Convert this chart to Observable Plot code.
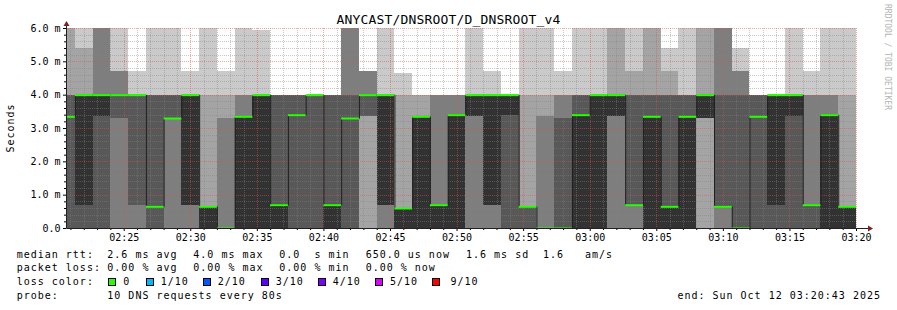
<!DOCTYPE html>
<html><head><meta charset="utf-8">
<script src="https://cdn.jsdelivr.net/npm/d3@7"></script>
<script src="https://cdn.jsdelivr.net/npm/@observablehq/plot@0.6"></script>
<style>
html,body{margin:0;padding:0;background:#fff;}
#wrap{position:relative;width:897px;height:310px;overflow:hidden;background:#fff;font-family:"DejaVu Sans Mono",monospace;color:#000;}
#wrap svg{position:absolute;left:0;top:0;}
.t{position:absolute;white-space:pre;font-size:10px;line-height:10px;letter-spacing:1px;}
.sw{position:absolute;width:6px;height:6px;border:1px solid #000;}
</style></head><body><div id="wrap"></div>
<script>
// ---------- data ----------
const title = "ANYCAST/DNSROOT/D_DNSROOT_v4";
const yLabel = "Seconds";
const credit = "RRDTOOL / TOBI OETIKER";
const viewStart = "2025-10-12T02:20:40Z";
const lastBinEnd = "2025-10-12T03:20:00Z";
const stepSeconds = 80;
// 10 sorted DNS round-trip times (ms) per 80 s step
const pings = [
  [0,0,0,0,3.35,3.35,4,4,6,6],
  [0,0,0,0,0.7,4,4,4,5.4,6],
  [0,0,0,0,3.35,4,4,6,6,6],
  [0,0,0,3.3,4,4,4,4.7,4.7,6],
  [0,0,0,0.7,4,4,4,4,4,4.7],
  [0,0,0,0,0.65,0.65,4,4,4,6],
  [0,0,0,3.3,3.3,3.3,4,4,4,6],
  [0,0,0,0.7,0.7,4,4,4,4,4.7],
  [0,0,0,0,0,0.65,0.65,0.65,4,6],
  [0,0,0,0,0,0,0,3.3,4,4.7],
  [0,0,0,0,0,3.35,3.35,4,4,6],
  [0,0,0,0,0,4,4,4,4,5.95],
  [0,0,0,0,0,0.7,4,4,4,4],
  [0,0,0,0,3.4,3.4,4,4,4,4],
  [0,0,0,0,4,4,4,4,4,4],
  [0,0,0,0,0,0.7,4,4,4,4],
  [0,0,0,0,3.3,3.3,4,6,6,6],
  [0,0,3.35,3.35,4,4,4,4.7,4.7,4.7],
  [0,0,0,0.7,0.7,4,4,4,4,6],
  [0,0,0,0,0,0.6,0.6,0.6,4,4.65],
  [0,0,0,0,0,3.35,3.35,3.35,4,4],
  [0,0,0,0,0,0.7,0.7,4,4,4],
  [0,0,0,0,0,3.4,3.4,4,4,4],
  [0,0,0,3.35,3.35,4,4,4,4,6],
  [0,0,0,0.7,0.7,4,4,4,4,4.7],
  [0,0,0,0,3.4,4,4,4,4,4],
  [0,0,0,0,0.65,0.65,0.65,0.65,4,6],
  [0,0,0,0,0,0,0,3.35,4,6],
  [0,0,0,0,0,0,3.3,4,4,4.7],
  [0,0,0,0,0,3.4,4,4,4,6],
  [0,0,0,0,0,4,4,4,4,6],
  [0,0,0,3.35,3.35,4,4,4,6,6],
  [0,0,0,0.7,0.7,0.7,4,4,4.7,6],
  [0,0,0,0,0,3.35,4,4,6,6],
  [0,0,0,0,0,0.65,4,4,4.7,5.4],
  [0,0,0,0,0,3.35,4,4,4,6],
  [0,0,3.3,3.3,3.3,4,4,4,6,6],
  [0,0,0,0.65,0.65,0.65,4,6,6,6],
  [0,0,0,0,0,0,4,4.7,4.7,5.4],
  [0,0,0,0,3.35,3.35,4,4,4,4],
  [0,0,0,0,0.7,4,4,4,4,4],
  [0,0,0,0,3.35,4,4,4,4,6],
  [0,0,0,0,0.7,0.7,0.7,4,4,4.7],
  [0,0,0,0,0,3.4,3.4,4,4,6],
  [0,0,0,0,0,0.65,0.65,0.65,4,6]
];
const medians = [3.35,4,4,4,4,0.65,3.3,4,0.65,0,3.35,4,0.7,3.4,4,0.7,3.3,4,4,0.6,3.35,0.7,3.4,4,4,4,0.65,0,0,3.4,4,4,0.7,3.35,0.65,3.35,4,0.65,0,3.35,4,4,0.7,3.4,0.65];
const yTicks = [0,1,2,3,4,5,6];
const yTickLabels = ["0.0","1.0 m","2.0 m","3.0 m","4.0 m","5.0 m","6.0 m"];
const xTickLabels = ["02:25","02:30","02:35","02:40","02:45","02:50","02:55","03:00","03:05","03:10","03:15","03:20"];
const smokeGreys = ["#cacaca","#a4a4a4","#7e7e7e","#585858","#323232"];
const lossLabels = ["0","1/10","2/10","3/10","4/10","5/10","9/10"];
const lossColors = ["#26ff00","#00b8ff","#0059ff","#5e00ff","#7e00ff","#dd00ff","#ff0000"];
const rowHeads = ["median rtt:","packet loss:","loss color:","probe:"];
const medianStats = ["2.6 ms avg","4.0 ms max","0.0  s min","650.0 us now","1.6 ms sd","1.6","am/s"];
const lossStats = ["0.00 % avg","0.00 % max","0.00 % min","0.00 % now"];
const probeText = "10 DNS requests every 80s";
const endText = "end: Sun Oct 12 03:20:43 2025";

// ---------- layout (pixels) ----------
const rowTops = [249.8, 263.2, 277.2, 290.8];
const statX = [107.3, 193.3, 279.3, 365.7, 466, 543, 585];
const swatchX = [108, 145.7, 202.7, 260.7, 317.7, 374.7, 431.7];
const swatchLabelX = [123.3, 160.7, 217.7, 275.7, 332.7, 390, 450.5];

// ---------- derived ----------
const endT = new Date(lastBinEnd);
const n = pings.length;
const bins = pings.map((p, i) => ({
  start: new Date(+endT - (n - i) * stepSeconds * 1000),
  end: new Date(+endT - (n - 1 - i) * stepSeconds * 1000),
  p, median: medians[i]
}));
const smoke = [];
for (let k = 0; k < 5; k++) for (const b of bins) {
  const lo = b.p[k], hi = b.p[9 - k];
  if (hi > lo) smoke.push({x1: b.start, x2: b.end, y1: lo, y2: hi, fill: smokeGreys[k]});
}
const medPts = bins.map(b => ({t: b.start, m: b.median}));
medPts.push({t: bins[n - 1].end, m: bins[n - 1].median});

const xDomain = [new Date(viewStart), endT];
const xTicks = xTickLabels.map(s => new Date(`2025-10-12T${s}:00Z`));
const xMinor = d3.utcMinute.range(xDomain[0], d3.utcSecond.offset(xDomain[1], 1)).filter(d => d.getUTCMinutes() % 5 !== 0);
const yMinor = d3.range(0.2, 6.0001, 0.2).filter(v => Math.abs(v - Math.round(v)) > 1e-6);
const yMajor = yTicks.filter(v => v > 0);

const gridMinor = "rgba(130,130,130,0.45)";
const gridMajor = "rgba(222,80,80,0.5)";

function axisLines(index, scales, values, dims) {
  const g = d3.create("svg:g");
  const L = dims.marginLeft + 0.5, R = dims.width - dims.marginRight;
  const B = dims.height - dims.marginBottom + 0.5, T = dims.marginTop;
  g.append("line").attr("x1", L).attr("y1", B).attr("x2", R + 12).attr("y2", B).attr("stroke", "#212121");
  g.append("line").attr("x1", L).attr("y1", B).attr("x2", L).attr("y2", T - 2).attr("stroke", "#212121");
  g.append("polygon").attr("points", `${R+12},${B-3} ${R+17},${B} ${R+12},${B+3}`).attr("fill", "#7f1f1f");
  g.append("polygon").attr("points", `${L-3},${T-2} ${L},${T-7} ${L+3},${T-2}`).attr("fill", "#7f1f1f");
  return g.node();
}

const plot = Plot.plot({
  width: 897, height: 248,
  marginLeft: 66, marginRight: 41, marginTop: 28, marginBottom: 20,
  style: {fontFamily: "DejaVu Sans Mono", fontSize: "10px", color: "#000", background: "transparent", overflow: "visible"},
  x: {type: "utc", domain: xDomain, label: null},
  y: {domain: [0, 6], label: null},
  color: {type: "identity"},
  marks: [
    Plot.rect(smoke, {x1: "x1", x2: "x2", y1: "y1", y2: "y2", fill: "fill", shapeRendering: "crispEdges", clip: true}),
    Plot.ruleY(yMinor, {stroke: gridMinor, strokeDasharray: "1,1", shapeRendering: "crispEdges"}),
    Plot.ruleX(xMinor, {stroke: gridMinor, strokeDasharray: "1,1", shapeRendering: "crispEdges"}),
    Plot.ruleY(yMajor, {stroke: gridMajor, strokeDasharray: "1,1", shapeRendering: "crispEdges"}),
    Plot.ruleX(xTicks, {stroke: gridMajor, strokeDasharray: "1,1", shapeRendering: "crispEdges"}),
    Plot.line(medPts, {x: "t", y: "m", curve: "step-after", stroke: "#202020", strokeWidth: 1, clip: true}),
    Plot.ruleY(bins, {y: "median", x1: "start", x2: "end", stroke: lossColors[0], strokeWidth: 2, clip: true}),
    Plot.axisY(yMinor, {anchor: "left", tickSize: 2, tickFormat: () => "", label: null}),
    Plot.axisY(yTicks, {anchor: "left", tickSize: 3, tickPadding: 3, tickFormat: d => yTickLabels[yTicks.indexOf(d)], label: null, fontSize: 10}),
    Plot.axisX(xMinor, {anchor: "bottom", tickSize: 2, tickFormat: () => "", label: null}),
    Plot.axisX(xTicks, {anchor: "bottom", tickSize: 3, tickPadding: 2, tickFormat: d3.utcFormat("%H:%M"), label: null, fontSize: 10}),
    axisLines
  ]
});

const wrap = document.getElementById("wrap");
wrap.appendChild(plot);

function addText(txt, left, top, extra) {
  const d = document.createElement("div");
  d.className = "t";
  d.textContent = txt;
  d.style.left = left + "px";
  d.style.top = top + "px";
  if (extra) Object.assign(d.style, extra);
  wrap.appendChild(d);
  return d;
}
// title
addText(title, 0, 13, {width: "897px", textAlign: "center", fontSize: "13px", lineHeight: "13px", letterSpacing: "0.17px"});
// y label
addText(yLabel, 11, 128, {transform: "translate(-50%,-50%) rotate(-90deg)"});
// credit
addText(credit, 882, 4, {writingMode: "vertical-rl", fontSize: "8px", lineHeight: "10px", letterSpacing: "0px", color: "#b4b4b4"});
// legend rows
rowHeads.forEach((h, i) => addText(h, 16.7, rowTops[i]));
medianStats.forEach((s, i) => addText(s, statX[i], rowTops[0]));
lossStats.forEach((s, i) => addText(s, statX[i], rowTops[1]));
lossLabels.forEach((s, i) => {
  const sw = document.createElement("div");
  sw.className = "sw";
  sw.style.left = swatchX[i] + "px";
  sw.style.top = "278px";
  sw.style.background = lossColors[i];
  wrap.appendChild(sw);
  addText(s, swatchLabelX[i], rowTops[2]);
});
addText(probeText, statX[0], rowTops[3]);
addText(endText, 0, rowTops[3], {left: "auto", right: "16px"});
</script></body></html>
